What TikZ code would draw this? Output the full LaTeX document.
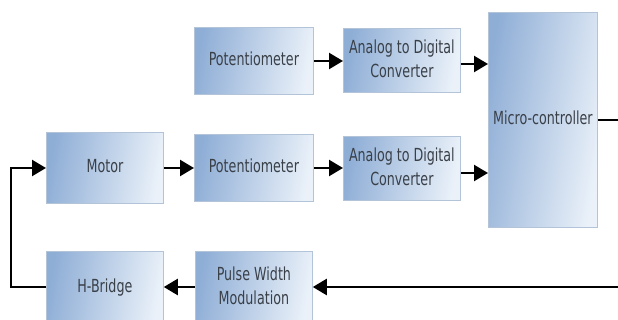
\documentclass[tikz,border=0pt]{standalone}
\usepackage{fontspec}
\setmainfont{DejaVu Sans Condensed}
\usetikzlibrary{arrows.meta}
\definecolor{boxdark}{HTML}{8FAED6}
\definecolor{boxlight}{HTML}{EAF1F9}
\definecolor{boxedge}{HTML}{B4C4D8}
\definecolor{txt}{HTML}{3A4048}
% narrow, tall lettering for the block labels
\newcommand{\blk}[1]{\raisebox{-1.5pt}{\scalebox{0.94}[1.2]{\begin{tabular}{@{}c@{}}#1\end{tabular}}}}
\tikzset{
  block/.style={draw=boxedge, line width=0.8pt, left color=boxdark, right color=boxlight,
    shading angle=80, anchor=north west, inner sep=0pt, text=txt,
    font=\fontsize{15}{20}\selectfont},
  link/.style={line width=2.4pt, draw=black, -{Triangle[length=14pt,width=16pt]}},
  wire/.style={line width=2.4pt, draw=black}
}
\begin{document}
\begin{tikzpicture}[x=1pt,y=-1pt]
\useasboundingbox (0,0) rectangle (618,320);
\node[block, minimum width=119pt, minimum height=67pt] (pot1) at (194,27) {\blk{Potentiometer}};
\node[block, minimum width=117pt, minimum height=64pt] (adc1) at (343,28) {\blk{Analog to Digital\\Converter}};
\node[block, minimum width=109pt, minimum height=215pt] (mcu) at (488,12) {\blk{Micro-controller}};
\node[block, minimum width=117pt, minimum height=71pt] (motor) at (46,132) {\blk{Motor}};
\node[block, minimum width=119pt, minimum height=67pt] (pot2) at (194,134) {\blk{Potentiometer}};
\node[block, minimum width=117pt, minimum height=64pt] (adc2) at (343,136) {\blk{Analog to Digital\\Converter}};
\node[block, minimum width=117pt, minimum height=72pt] (hb) at (46,251) {\blk{H-Bridge}};
\node[block, minimum width=117pt, minimum height=72pt] (pwm) at (195,251) {\blk{Pulse Width\\Modulation}};
\coordinate (out) at (618,120);
\coordinate (back) at (618,287);
\coordinate (loop) at (11,287);
\draw[link] (pot1.east |- 0,61) -- (adc1.west |- 0,61);
\draw[link] (adc1.east |- 0,64) -- (mcu.west |- 0,64);
\draw[link] (motor.east |- 0,168) -- (pot2.west |- 0,168);
\draw[link] (pot2.east |- 0,168) -- (adc2.west |- 0,168);
\draw[link] (adc2.east |- 0,173) -- (mcu.west |- 0,173);
\draw[wire] (mcu.east |- out) -- (out);
\draw[link] (back) -- (pwm.east |- back);
\draw[link] (pwm.west |- back) -- (hb.east |- back);
\draw[link] (hb.west |- back) -- (loop) |- (motor.west |- 0,168);
\end{tikzpicture}
\end{document}
